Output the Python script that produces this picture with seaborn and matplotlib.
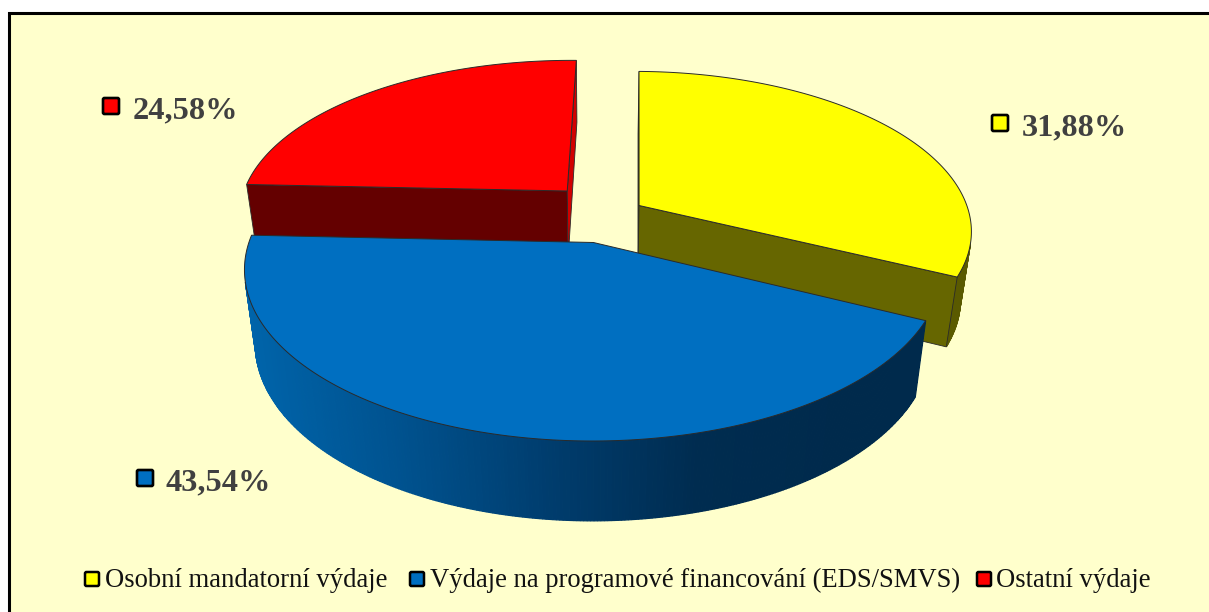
import numpy as np
import pandas as pd
import seaborn as sns
import matplotlib.pyplot as plt
from matplotlib.patches import FancyBboxPatch, Rectangle

# Data
categories = ['Osobní mandatorní výdaje', 'Výdaje na programové financování (EDS/SMVS)', 'Ostatní výdaje']
shares = [31.88, 43.54, 24.58]

# Colours
top_colors = ['#ffff00', '#006fc1', '#ff0000']
start_face = ['#666600', '#00406e', '#640000']
end_face = ['#666600', '#00406e', '#d20000']
wall_colors = [['#5a5a00', '#5a5a00'], ['#0064aa', '#00528f', '#003d6e', '#002c50', '#002a4c', '#002a4c'],
               ['#640000', '#640000']]

# Projection of the tilted pie
X0, Y0 = 600, 219
RX, RY = 332, 158
PERSP_Y, PERSP_Z = 0.15, 0.03
DEPTH = [70, 75, 70]
EXPLODE_X = [0.14, 0.08, 0.148]
EXPLODE_Y = [0.165, 0.15, 0.25]
RADIUS = [1.0, 1.015, 1.0]
ROTATION = 1.0


def project(x, y, z, depth):
    w = 1 + PERSP_Y * y + PERSP_Z * z
    return X0 + RX * x / w, Y0 + (-RY * y + depth * z) / w


def area(px, py):
    # screen area with sign, tells which way a face is turned
    return 0.5 * np.sum(px * np.roll(py, -1) - np.roll(px, -1) * py)


def draw_slice(ax, t0, t1, color, face0, face1, wall, i):
    mid = np.radians((t0 + t1) / 2)
    ox, oy = EXPLODE_X[i] * np.sin(mid), EXPLODE_Y[i] * np.cos(mid)
    t = np.radians(np.arange(t0, t1, 0.5).tolist() + [t1])
    rx, ry = ox + RADIUS[i] * np.sin(t), oy + RADIUS[i] * np.cos(t)
    band = {2: 1, 0: 2, 1: 3}[i]
    depth = DEPTH[i]

    # outer wall, one quad per step, shading runs from left to right
    cols = sns.blend_palette(wall, 256)
    for j in range(len(t) - 1):
        ax_, ay_ = project(rx[[j, j + 1]], ry[[j, j + 1]], 0, depth)
        bx_, by_ = project(rx[[j + 1, j]], ry[[j + 1, j]], 1, depth)
        px, py = np.r_[ax_, bx_], np.r_[ay_, by_]
        if area(px, py) < 0:
            frac = np.clip((px.mean() - 250) / (990 - 250), 0, 1)
            ax.fill(px, py, facecolor=cols[int(frac * 255)], edgecolor=cols[int(frac * 255)], lw=0.9,
                    zorder=band + 0.1)

    # radial faces
    for k, fc, sign in ((0, face0, -1), (-1, face1, 1)):
        fx, fy = project(np.array([ox, rx[k], rx[k], ox]), np.array([oy, ry[k], ry[k], oy]),
                         np.array([0, 0, 1, 1]), depth)
        if sign * area(fx, fy) > 0:
            ax.fill(fx, fy, facecolor=fc, edgecolor='#2a2a2a', lw=0.6, zorder=band + 0.2)

    # top surface
    tx, ty = project(np.r_[ox, rx], np.r_[oy, ry], 0, depth)
    ax.fill(tx, ty, facecolor=color, edgecolor='#2a2a2a', lw=0.7, zorder=band + 0.3)


def key(ax, x0, y0, size, color, lw):
    ax.add_patch(FancyBboxPatch((x0, y0), size, size, boxstyle='round,pad=0,rounding_size=1.5',
                                facecolor=color, edgecolor='black', lw=lw, zorder=5))


if __name__ == '__main__':
    sns.set_theme(style='white')
    plt.rcParams['font.family'] = ['Liberation Serif', 'DejaVu Serif']

    df = pd.DataFrame({'kategorie': categories, 'podil': shares})
    ends = df['podil'].cumsum() / df['podil'].sum() * 360 + ROTATION
    starts = ends - df['podil'] / df['podil'].sum() * 360

    fig, ax = plt.subplots(figsize=(12.09, 6.12), dpi=100)
    fig.subplots_adjust(0, 0, 1, 1)
    ax.set_xlim(0, 1209)
    ax.set_ylim(612, 0)
    ax.axis('off')

    # Frame runs off the right and bottom of the picture
    ax.add_patch(Rectangle((8.5, 13), 1300, 700, facecolor='#ffffcc', edgecolor='black', lw=2.2, zorder=0))

    # Painted back to front
    for i in [2, 0, 1]:
        draw_slice(ax, starts[i], ends[i], top_colors[i], start_face[i], end_face[i], wall_colors[i], i)

    # Value labels
    label_keys = [(992, 115), (137, 470), (103, 98)]
    label_text = [(1022, 135), (166, 490), (133, 118)]
    for i, v in enumerate(shares):
        key(ax, label_keys[i][0], label_keys[i][1], 16, top_colors[i], 1.9)
        ax.text(label_text[i][0], label_text[i][1], f'{v:.2f}'.replace('.', ',') + '%', fontsize=23.3,
                fontweight='bold', color='#404040', va='baseline', ha='left', zorder=6)

    # Legend
    legend_keys = [85, 410, 977]
    legend_text = [105, 430, 996]
    for i, name in enumerate(categories):
        key(ax, legend_keys[i], 572, 14, top_colors[i], 1.8)
        ax.text(legend_text[i], 587, name, fontsize=19.15, color='#111111', va='baseline', ha='left', zorder=6)

    plt.savefig('out.png', dpi=100)
